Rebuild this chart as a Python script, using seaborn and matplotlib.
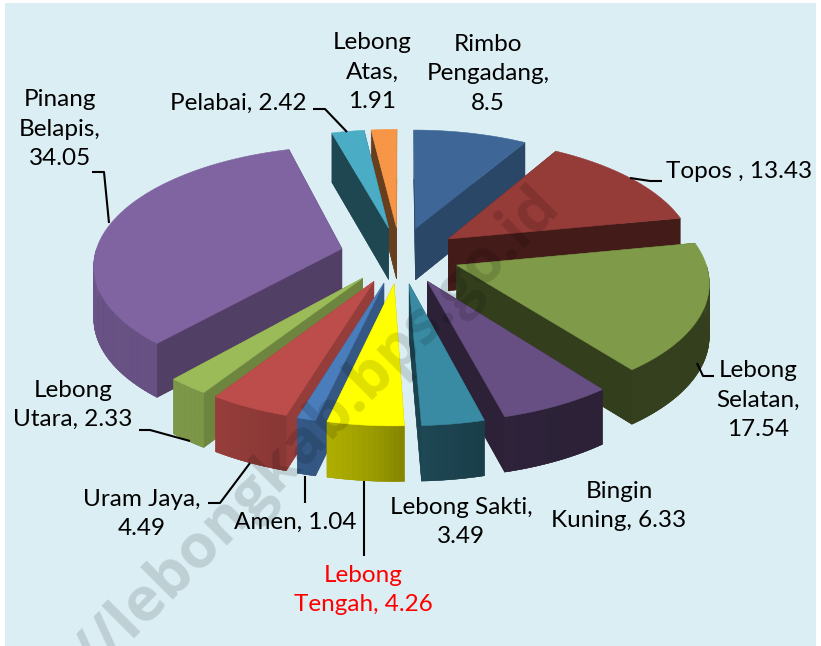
import numpy as np
import seaborn as sns
import matplotlib
matplotlib.use('Agg')
import matplotlib.pyplot as plt
from matplotlib.patches import Rectangle

sns.set_theme(style='white')
plt.rcParams['font.family'] = ['Lato', 'DejaVu Sans']

# data
names = ['Rimbo Pengadang', 'Topos', 'Lebong Selatan', 'Bingin Kuning', 'Lebong Sakti', 'Lebong Tengah',
         'Amen', 'Uram Jaya', 'Lebong Utara', 'Pinang Belapis', 'Pelabai', 'Lebong Atas']
values = [8.5, 13.43, 17.54, 6.33, 3.49, 4.26, 1.04, 4.49, 2.33, 34.05, 2.42, 1.91]
label_texts = ['Rimbo\nPengadang,\n8.5', 'Topos , 13.43', 'Lebong\nSelatan,\n17.54', 'Bingin\nKuning, 6.33',
               'Lebong Sakti,\n3.49', 'Lebong\nTengah, 4.26', 'Amen, 1.04', 'Uram Jaya,\n4.49',
               'Lebong\nUtara, 2.33', 'Pinang\nBelapis,\n34.05', 'Pelabai, 2.42', 'Lebong\nAtas,\n1.91']

# style
top_colors = ['#3E6797', '#953B38', '#7F9A48', '#684F83', '#398BA3', '#FFFF00',
              '#4A7DBB', '#BC4D4A', '#9BBB59', '#8064A2', '#4BACC6', '#F79646']
side_shade = [0.69, 0.45, 0.40, 0.42, 0.49, 0.60, 0.70, 0.79, 0.71, 0.63, 0.41, 0.42]
palette = sns.color_palette(top_colors)

label_pos = [(488, 74), (739, 172), (758, 400), (619, 506), (461, 522), (363, 590),
             (295, 522), (142, 514), (73, 405), (60, 129), (238, 103), (372, 72)]
leaders = [[(662, 181), (650, 181), (630, 178)],
           [(714, 376), (703, 376), (697, 363)],
           [(364, 556), (364, 481)],
           [(305, 503), (305, 476)],
           [(208, 503), (220, 503), (250, 463)],
           [(139, 430), (150, 430), (190, 441)],
           [(92, 172), (104, 172), (109, 223)],
           [(313, 109), (325, 109), (347, 132)]]

cx, cy = 400, 255
radius = 247
explode = 60
tilt = 0.472
persp = 0.123
depth = 52


def project(px, pv):
    s = 1 / (1 - persp * pv / radius)
    return cx + px * s, cy + pv * tilt * s, s


def arc_shade(a):
    # arc walls get lighter going round to the left
    return float(np.interp(a, [0, 150, 165, 178, 185, 197, 213, 270, 360],
                           [0.40, 0.42, 0.44, 0.52, 0.62, 0.72, 0.80, 0.85, 0.85]))


def wedge_points(a0, a1, n):
    mid = np.radians((a0 + a1) / 2)
    ang = np.radians(np.linspace(a0, a1, n))
    px = explode * np.sin(mid) + radius * np.sin(ang)
    pv = -explode * np.cos(mid) - radius * np.cos(ang)
    ax_, ay_, s_ = project(px, pv)
    ox, oy, os_ = project(explode * np.sin(mid), -explode * np.cos(mid))
    return (ox, oy, os_), ax_, ay_, s_


fig, ax = plt.subplots(figsize=(8.21, 6.46), dpi=100)
fig.subplots_adjust(0, 0, 1, 1)
ax.set_xlim(0, 821)
ax.set_ylim(646, 0)
ax.axis('off')
ax.add_patch(Rectangle((5, 3), 811, 650, color='#DBEEF4', lw=0, zorder=0))

total = sum(values)
edges = np.concatenate([[0], np.cumsum(values)]) / total * 360
mids = (edges[:-1] + edges[1:]) / 2

# back slices first so the front ones sit on top
order = sorted(range(len(values)), key=lambda i: -np.cos(np.radians(mids[i])))
z = 2
for i in order:
    a0, a1 = edges[i], edges[i + 1]
    n = max(int(a1 - a0), 2) + 1
    (ox, oy, os_), xs, ys, ss = wedge_points(a0, a1, n)
    col = np.array(palette[i])
    drop = depth * ss ** 0.4
    odrop = depth * os_ ** 0.4

    # floor and the two straight walls
    wall = tuple(col * side_shade[i])
    ax.fill(np.r_[ox, xs], np.r_[oy + odrop, ys + drop], color=wall, lw=0.3, zorder=z)
    for j in (0, -1):
        ax.fill([ox, xs[j], xs[j], ox], [oy, ys[j], ys[j] + drop[j], oy + odrop],
                color=wall, lw=0.3, zorder=z)
    # curved wall in small strips, only the part that faces the viewer
    angs = np.linspace(a0, a1, n)
    for j in range(n - 1):
        am = (angs[j] + angs[j + 1]) / 2
        if np.cos(np.radians(am)) > 0:
            continue
        c = tuple(col * arc_shade(am))
        ax.fill([xs[j], xs[j + 1], xs[j + 1], xs[j]],
                [ys[j], ys[j + 1], ys[j + 1] + drop[j + 1], ys[j] + drop[j]],
                color=c, lw=0.3, zorder=z)
    # top face
    ax.fill(np.r_[ox, xs], np.r_[oy, ys], color=tuple(col), lw=0.4, zorder=z + 0.5)
    z += 1

for pts in leaders:
    p = np.array(pts)
    ax.plot(p[:, 0], p[:, 1], color='black', lw=1.5, zorder=30, solid_capstyle='butt')

for i, txt in enumerate(label_texts):
    c = 'red' if names[i] == 'Lebong Tengah' else 'black'
    ax.text(label_pos[i][0], label_pos[i][1], txt, ha='center', va='center', fontsize=17.5,
            color=c, linespacing=1.5, zorder=31)

# watermark
ax.text(85, 665, '//lebongkab.bps.go.id', rotation=45, rotation_mode='anchor', ha='left', va='center',
        fontsize=44, fontweight='bold', family=['Open Sans', 'DejaVu Sans'], color='black', alpha=0.13,
        zorder=40, clip_on=True)

plt.savefig('out.png', dpi=100)
